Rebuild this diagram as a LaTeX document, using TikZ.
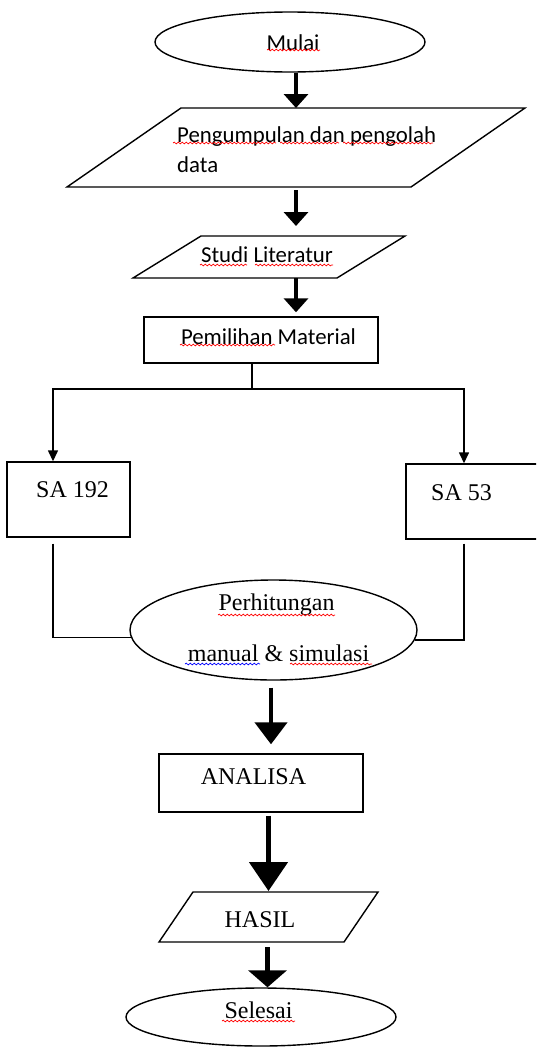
\documentclass[tikz,border=0pt]{standalone}
\usepackage{fontspec}
\setmainfont{Liberation Serif}
\newfontfamily\calfont{Carlito}
\usetikzlibrary{arrows.meta,shapes.geometric,decorations.pathmorphing,calc}
\begin{document}
\begin{tikzpicture}[x=1pt,y=-1pt,
  box/.style={draw, line width=1.4pt, rectangle, inner sep=0pt},
  ghost/.style={rectangle, inner sep=0pt, outer sep=0pt},
  oval/.style={draw, line width=1.4pt, ellipse, inner sep=0pt},
  ctext/.style={font=\calfont\fontsize{22.8}{30}\selectfont, inner sep=0pt},
  stext/.style={font=\fontsize{24}{30}\selectfont, inner sep=0pt},
  outline/.style={line width=1.4pt, line join=miter},
  thinline/.style={line width=1.4pt},
  smallA/.style={line width=1.4pt, -{Triangle[width=10pt,length=11pt]}},
  arrA/.style={line width=3.5pt, -{Triangle[width=24pt,length=14pt]}},
  arrB/.style={line width=4.5pt, -{Triangle[width=32pt,length=22pt]}},
  arrC/.style={line width=5pt, -{Triangle[width=38pt,length=29pt]}},
  arrD/.style={line width=4.5pt, -{Triangle[width=38pt,length=17pt]}},
  spell/.style={draw=red, line width=0.7pt, decorate, decoration={snake, segment length=4pt, amplitude=0.9pt}},
  gram/.style={spell, draw=blue}
]
\useasboundingbox (0,0) rectangle (536,1047);
\fill[white] (0,0) rectangle (536,1047);
\clip (0,0) rectangle (536,1047);

% shapes
\node[oval, minimum width=270pt, minimum height=60pt] (mulai) at (290,42) {};
\node[ghost, minimum width=458pt, minimum height=79pt] (p1) at (296,147.5) {};
\draw[outline] ([xshift=114]p1.north west) -- (p1.north east) -- ([xshift=-114]p1.south east) -- (p1.south west) -- cycle;
\node[ghost, minimum width=272pt, minimum height=42pt] (studi) at (269,257) {};
\draw[outline] ([xshift=68]studi.north west) -- (studi.north east) -- ([xshift=-68]studi.south east) -- (studi.south west) -- cycle;
\node[box, minimum width=234pt, minimum height=46pt] (pem) at (261,340) {};
\node[box, minimum width=123pt, minimum height=75pt] (sa1) at (68.5,499.5) {};
\node[box, minimum width=142pt, minimum height=75pt] (sa2) at (477,501.5) {};
\node[oval, minimum width=287pt, minimum height=100pt] (perh) at (273.5,630) {};
\node[box, minimum width=204pt, minimum height=58pt] (analisa) at (261,783) {};
\node[ghost, minimum width=219pt, minimum height=50pt] (hasil) at (268.5,917) {};
\draw[outline] ([xshift=34]hasil.north west) -- (hasil.north east) -- ([xshift=-34]hasil.south east) -- (hasil.south west) -- cycle;
\node[oval, minimum width=270pt, minimum height=58pt] (selesai) at (261,1017) {};

% texts
\node[ctext] (tmulai) at (293,43) {Mulai};
\node[ctext, anchor=west, align=left] (tp1) at (177,150) {Pengumpulan dan pengolah\\data};
\node[ctext] (tstudi) at (267,255) {Studi Literatur};
\node[ctext] (tpem) at (268.5,337) {Pemilihan Material};
\node[stext] (tsa1) at (72.5,490) {SA 192};
\node[stext] (tsa2) at (461.5,493) {SA 53};
\node[stext] (tperh1) at (276.5,605) {Perhitungan};
\node[stext] (tperh2) at (278.5,653) {manual \& simulasi};
\node[stext] (tanalisa) at (253.5,777) {ANALISA};
\node[stext] (thasil) at (260,920) {HASIL};
\node[stext] (tselesai) at (258.5,1010) {Selesai};

% spell-check underlines
\draw[spell] (267,50) -- (320,50);
\draw[spell] (173,143) -- (276,143);
\draw[spell] (280,143) -- (339,143);
\draw[spell] (343,143) -- (433,143);
\draw[spell] (200,265) -- (247,265);
\draw[spell] (255,265) -- (333,265);
\draw[spell] (180,345) -- (275,345);
\draw[spell] (218,615) -- (335,615);
\draw[gram] (185,664) -- (260,664);
\draw[spell] (290,664) -- (372,664);
\draw[spell] (222,1021) -- (295,1021);

% connectors
\draw[arrA] (p1.north |- mulai.south) -- (p1.north);
\draw[arrA, shorten <=3, shorten >=10] (p1.south) -- (p1.south |- studi.north);
\draw[arrA, shorten >=4] (studi.south -| p1.south) -- (pem.north -| p1.south);
\coordinate (split) at (252,389);
\draw[thinline] (split |- pem.south) -- (split);
\draw[smallA] (split) -| ([xshift=-15.5]sa1.north);
\draw[smallA] (split) -| ([xshift=-13]sa2.north);
\draw[thinline] ([shift={(-15.5,6)}]sa1.south) |- (perh.183.6);
\draw[thinline] ([shift={(-13,4)}]sa2.south) |- (perh.356.4);
\draw[arrB, shorten <=7, shorten >=9] ([xshift=10]analisa.north |- perh.south) -- ([xshift=10]analisa.north);
\draw[arrC, shorten <=3, shorten >=1] (analisa.south -| hasil.north) -- (hasil.north);
\draw[arrD, shorten <=5] ([xshift=-1]hasil.south) -- ([xshift=-1]hasil.south |- selesai.north);
\end{tikzpicture}
\end{document}
